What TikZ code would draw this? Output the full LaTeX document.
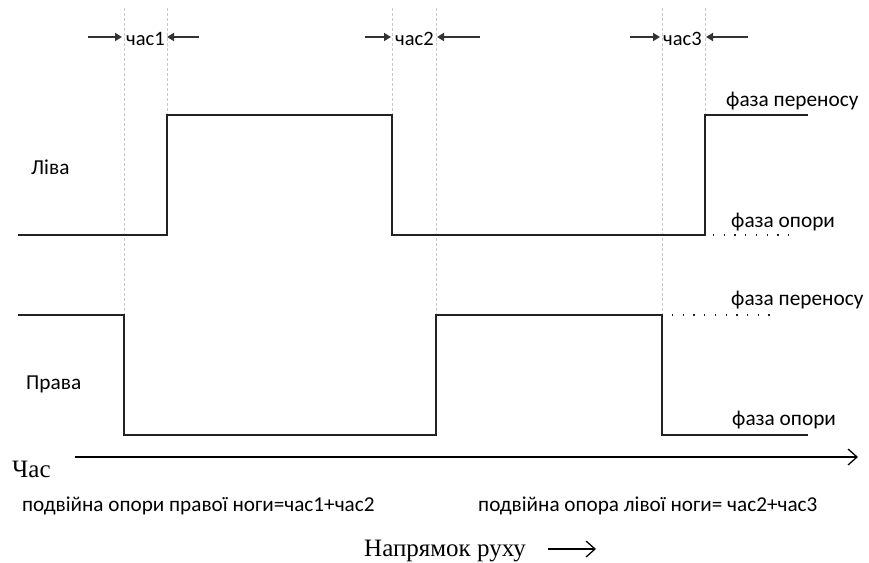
\documentclass[tikz,border=0pt]{standalone}
\usepackage{fontspec}
\setmainfont{Liberation Serif}
\newfontfamily\lbl{Carlito}
\usetikzlibrary{arrows.meta}
\definecolor{trace}{HTML}{222222}
\definecolor{guide}{HTML}{C8C8C8}
\definecolor{arr}{HTML}{333333}
\tikzset{
  tr/.style={draw=trace, line width=2.6pt, line join=miter},
  guideline/.style={draw=guide, line width=1pt, dash pattern=on 3pt off 2pt},
  dotline/.style={draw=trace, line width=1.3pt, dash pattern=on 1.3pt off 9.4pt},
  tarr/.style={draw=arr, line width=1.8pt, -{Triangle[length=7pt,width=8pt]}},
  lab/.style={font=\lbl\fontsize{21.3}{24}\selectfont, inner sep=0pt, anchor=base west},
  tlab/.style={font=\lbl\fontsize{20.5}{24}\selectfont, inner sep=0pt, anchor=base west},
  blab/.style={font=\lbl\fontsize{21.2}{24}\selectfont, inner sep=0pt, anchor=base west},
  serif/.style={font=\fontsize{25}{28}\selectfont, inner sep=0pt, anchor=base west},
  axarr/.style={draw=black, line width=1.3pt, -{Straight Barb[length=9pt,width=16pt,line width=1.3pt]}}
}
\begin{document}
\begin{tikzpicture}[x=1pt,y=-1pt]
\useasboundingbox (0,0) rectangle (869,562);
% trace corners
\coordinate (L0) at (18,235);
\coordinate (L1) at (167,235);
\coordinate (L2) at (167,115);
\coordinate (L3) at (392,115);
\coordinate (L4) at (392,235);
\coordinate (L5) at (705,235);
\coordinate (L6) at (705,115);
\coordinate (L7) at (808,115);
\coordinate (L8) at (790,235);
\coordinate (R0) at (18,315);
\coordinate (R1) at (124,315);
\coordinate (R2) at (124,435);
\coordinate (R3) at (436,435);
\coordinate (R4) at (436,315);
\coordinate (R5) at (662,315);
\coordinate (R6) at (662,435);
\coordinate (R7) at (808,435);
\coordinate (R8) at (778,315);
% guide tops
\coordinate (G1) at (124,8);
\coordinate (G2) at (167,8);
\coordinate (G3) at (392,8);
\coordinate (G4) at (436,8);
\coordinate (G5) at (662,8);
\coordinate (G6) at (705,8);
% guides
\draw[guideline] (G1) -- (R1);
\draw[guideline] (G2) -- (L2);
\draw[guideline] (G3) -- (L3);
\draw[guideline] (G4) -- (R4);
\draw[guideline] (G5) -- (R5);
\draw[guideline] (G6) -- (L6);
% traces
\draw[tr] (L0) -- (L1) -- (L2) -- (L3) -- (L4) -- (L5) -- (L6) -- (L7);
\draw[tr] (R0) -- (R1) -- (R2) -- (R3) -- (R4) -- (R5) -- (R6) -- (R7);
\draw[dotline] ([xshift=8pt]L5) -- (L8);
\draw[dotline] ([xshift=10pt]R5) -- (R8);
% time interval labels
\node[tlab] (t1) at (126,45) {час1};
\node[tlab] (t2) at (395,45) {час2};
\node[tlab] (t3) at (663,45) {час3};
\coordinate (a1s) at (88,37);  \coordinate (a1e) at (122,37);
\coordinate (b1s) at (199,37); \coordinate (b1e) at (167,37);
\coordinate (a2s) at (365,37); \coordinate (a2e) at (391,37);
\coordinate (b2s) at (480,37); \coordinate (b2e) at (437,37);
\coordinate (a3s) at (630,37); \coordinate (a3e) at (660,37);
\coordinate (b3s) at (748,37); \coordinate (b3e) at (706,37);
\draw[tarr] (a1s) -- (a1e);
\draw[tarr] (b1s) -- (b1e);
\draw[tarr] (a2s) -- (a2e);
\draw[tarr] (b2s) -- (b2e);
\draw[tarr] (a3s) -- (a3e);
\draw[tarr] (b3s) -- (b3e);
% side labels
\node[lab] (left) at (31,174) {Ліва};
\node[lab] (right) at (26,389) {Права};
\node[lab] (lsw) at (726,106) {фаза переносу};
\node[lab] (lst) at (731,227) {фаза опори};
\node[lab] (rsw) at (731,305) {фаза переносу};
\node[lab] (rst) at (732,425) {фаза опори};
% time axis
\coordinate (ax0) at (75,457);
\coordinate (ax1) at (858,457);
\draw[axarr] (ax0) -- (ax1);
\node[serif] (time) at (12,477) {Час};
\node[blab] (ds1) at (22,511) {подвійна опори правої ноги=час1+час2};
\node[blab] (ds2) at (478,511) {подвійна опора лівої ноги= час2+час3};
\node[serif] (dir) at (364,556) {Напрямок руху};
\coordinate (d0) at (548,549);
\coordinate (d1) at (596,549);
\draw[axarr] (d0) -- (d1);
\end{tikzpicture}
\end{document}
